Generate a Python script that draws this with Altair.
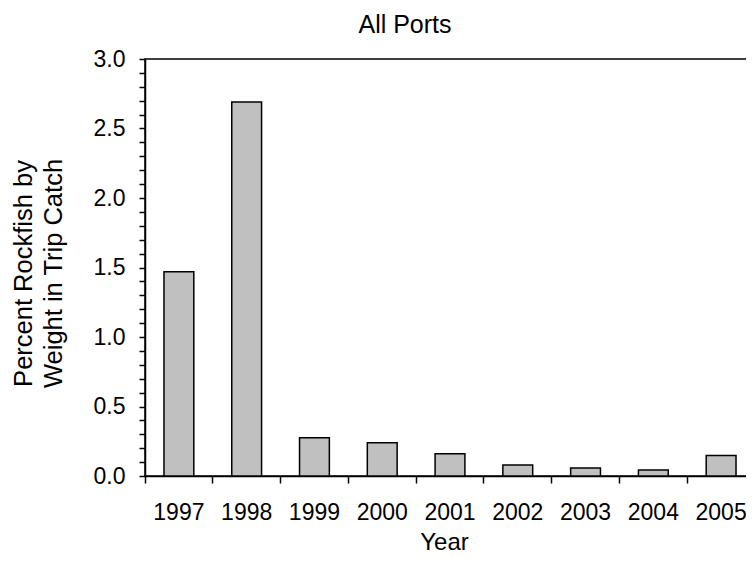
import altair as alt
import pandas as pd

years = ["1997", "1998", "1999", "2000", "2001", "2002", "2003", "2004", "2005"]
percent = [1.47, 2.69, 0.275, 0.24, 0.16, 0.08, 0.058, 0.043, 0.147]

df = pd.DataFrame({"Year": years, "Percent": percent})

y_ticks = [round(i * 0.1, 1) for i in range(0, 31)]

FONT = "Liberation Sans"

chart = alt.Chart(df).mark_bar(
    fill="#c0c0c0", stroke="black", strokeWidth=1.5,
    width=alt.RelativeBandSize(0.44)
).encode(
    x=alt.X("Year:N", sort=years,
            scale=alt.Scale(paddingInner=0, paddingOuter=0),
            axis=alt.Axis(title="Year", labelAngle=0, bandPosition=0,
                          tickSize=7, labelPadding=18,
                          titlePadding=6, titleX=299, domainColor="black", tickColor="black",
                          labelFontSize=23, titleFontSize=24, titleFontWeight="normal",
                          labelFont=FONT, titleFont=FONT, labelColor="black",
                          titleColor="black", domainWidth=1.5, tickWidth=1.5)),
    y=alt.Y("Percent:Q", scale=alt.Scale(domain=[0, 3.0], nice=False),
            axis=alt.Axis(title=["Percent Rockfish by", "Weight in Trip Catch"],
                          values=y_ticks,
                          labelExpr="abs(datum.value*2 - round(datum.value*2)) < 0.001 ? format(datum.value, '.1f') : ''",
                          tickSize=6, labelPadding=14, titlePadding=27, titleY=214,
                          domainColor="black", tickColor="black",
                          labelFontSize=23, titleFontSize=25.5, titleFontWeight="normal",
                          labelFont=FONT, titleFont=FONT, labelColor="black",
                          titleColor="black", titleLineHeight=30,
                          domainWidth=1.5, tickWidth=1.5, grid=False,
                          labelOverlap=False))
).properties(
    width=610, height=417,
    title=alt.TitleParams("All Ports", font=FONT, fontSize=25, fontWeight="normal",
                          color="black", anchor="middle", dx=-45, offset=10),
    autosize=alt.AutoSizeParams(type="none"),
    padding={"left": 137, "top": 51, "right": -9, "bottom": 80}
).configure_view(
    stroke="black", strokeWidth=1.5
).configure_axis(grid=False)

chart.save("out.html", embed_options={"renderer": "svg", "actions": False})
